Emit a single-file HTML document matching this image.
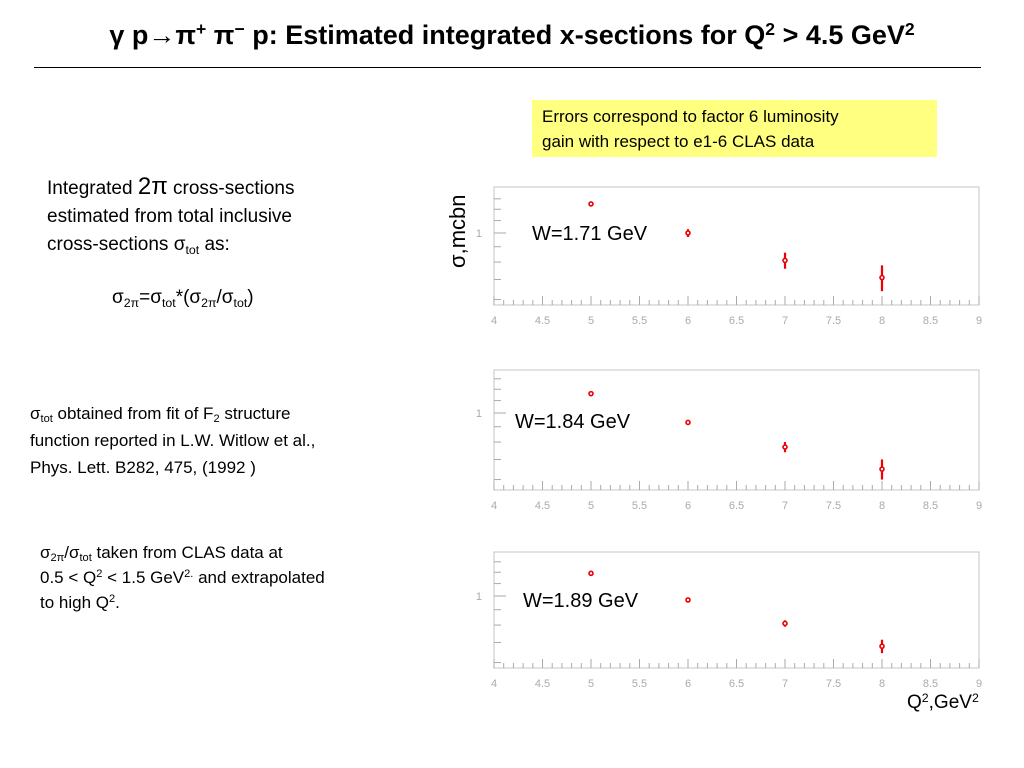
<!DOCTYPE html>
<html><head><meta charset="utf-8"><style>
body{margin:0;width:1024px;height:768px;background:#fff;font-family:"Liberation Sans",sans-serif;position:relative;overflow:hidden}
.t{position:absolute;color:#000}
sub,sup{font-size:65%;line-height:0;position:relative;vertical-align:baseline}
sub{top:0.3em}
sup{top:-0.5em}
</style></head><body>
<div class="t" style="left:0;width:1024px;top:20px;text-align:center;font-size:27px;font-weight:bold">γ p→π<sup>+</sup> π<sup>−</sup> p: Estimated integrated x-sections for Q<sup>2</sup> &gt; 4.5 GeV<sup>2</sup></div>
<div style="position:absolute;left:34px;top:67px;width:947px;height:1px;background:#000"></div>
<div class="t" style="left:532px;top:100px;width:405px;height:57px;background:#ffff80;padding:4px 0 0 10px;box-sizing:border-box;font-size:17px;line-height:25px;white-space:nowrap">Errors correspond to factor 6 luminosity<br>gain with respect to e1-6 CLAS data</div>
<div class="t" style="left:47px;top:175px;font-size:19px;line-height:28px">Integrated <span style="font-size:24px;line-height:0">2π</span> cross-sections<br>estimated from total inclusive<br>cross-sections σ<sub>tot</sub> as:</div>
<div class="t" style="left:112px;top:287px;font-size:19px">σ<sub>2π</sub>=σ<sub>tot</sub>*(σ<sub>2π</sub>/σ<sub>tot</sub>)</div>
<div class="t" style="left:30px;top:400px;font-size:17px;line-height:27px">σ<sub>tot</sub> obtained from fit of F<sub>2</sub>  structure<br>function reported in L.W. Witlow et al.,<br>Phys. Lett. B282, 475, (1992 )</div>
<div class="t" style="left:40px;top:540px;font-size:17px;line-height:25px">σ<sub>2π</sub>/σ<sub>tot</sub> taken from CLAS data at<br>0.5 &lt; Q<sup>2</sup> &lt; 1.5 GeV<sup>2.</sup> and extrapolated<br>to high Q<sup>2</sup>.</div>
<svg id="c" width="1024" height="768" style="position:absolute;left:0;top:0"></svg>
<script>
const qValues=[5,6,7,8];
const w171=[1.25,1.0,0.81,0.71];
const w171Err=[0.01,0.03,0.05,0.07];
const w184=[1.16,0.93,0.77,0.65];
const w184Err=[0.01,0.01,0.03,0.05];
const w189=[1.19,0.97,0.81,0.68];
const w189Err=[0.01,0.01,0.02,0.035];
const xTicks=["4","4.5","5","5.5","6","6.5","7","7.5","8","8.5","9"];
const labels=["W=1.71 GeV","W=1.84 GeV","W=1.89 GeV"];
const NS="http://www.w3.org/2000/svg",svg=document.getElementById('c');
function mk(t,a,p){const e=document.createElementNS(NS,t);for(const k in a)e.setAttribute(k,a[k]);(p||svg).appendChild(e);return e;}
const panels=[{top:187,bot:305,one:233,v:w171,e:w171Err,lx:532,ly:240},{top:370,bot:490,one:413,v:w184,e:w184Err,lx:515,ly:428},{top:552,bot:668,one:596,v:w189,e:w189Err,lx:523,ly:607}];
const X0=494,X1=979;
const xs=q=>X0+(q-4)/5*(X1-X0);
panels.forEach((P,i)=>{
 const g=mk('g',{});
 
 
 const ys=v=>P.one-300*Math.log10(v);
 const f=mk('rect',{x:X0,y:P.top,width:X1-X0,height:P.bot-P.top,fill:'none',stroke:'#c4c4c4','stroke-width':1},g);
 
 
 for(let k=0;k<=50;k++){const x=X0+k*(X1-X0)/50;mk('line',{x1:x,x2:x,y1:P.bot,y2:P.bot-(k%5==0?9:5),stroke:'#aaa'},g);}
 xTicks.forEach((t,k)=>{const tx=mk('text',{x:xs(4+k*0.5),y:P.bot+19,'text-anchor':'middle','font-size':11,fill:'#aaa','font-family':'Liberation Sans'},g);tx.textContent=t;
  
  });
 [1.3,1.2,1.1,1,0.9,0.8,0.7,0.6].forEach(v=>{const y=ys(v);if(y>P.top&&y<P.bot)mk('line',{x1:X0,x2:X0+(v==1?12:7),y1:y,y2:y,stroke:'#aaa'},g);});
 const yl=mk('text',{x:X0-12,y:P.one+4,'text-anchor':'end','font-size':11,fill:'#aaa'},g);yl.textContent='1';
 
 
 const lb=mk('text',{x:P.lx,y:P.ly,'font-size':20,fill:'#000'},g);lb.textContent=labels[i];
 
 
 qValues.forEach((q,k)=>{const x=xs(q),v=P.v[k],e=P.e[k];
  const ln=mk('line',{x1:x,x2:x,y1:ys(v+e),y2:ys(v-e),stroke:'#e00','stroke-width':2.2},g);
  
  
  const c=mk('circle',{cx:x,cy:ys(v),r:2,fill:'#fff',stroke:'#e00','stroke-width':1.6},g);
  
  });
});
</script>
<div class="t" style="left:445px;top:268px;font-size:22px;transform:rotate(-90deg);transform-origin:0 0;white-space:nowrap">σ,mcbn</div>
<div class="t" style="left:907px;top:692px;font-size:19px">Q<sup>2</sup>,GeV<sup>2</sup></div>
</body></html>
